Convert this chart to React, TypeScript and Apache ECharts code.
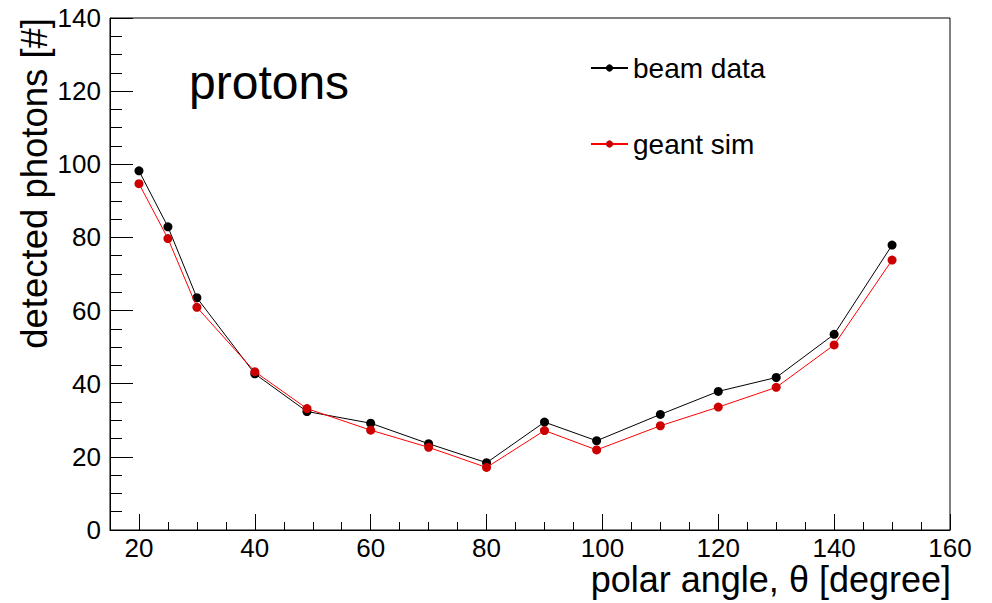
import React, { useEffect, useRef } from "react";
import * as echarts from "echarts";

// Polar angle of the incident particle [degree]
const angles = [20, 25, 30, 40, 49, 60, 70, 80, 90, 99, 110, 120, 130, 140, 150];
// Mean number of detected photons, test-beam measurement
const beamData = [98.2, 82.9, 63.5, 42.7, 32.4, 29.2, 23.6, 18.4, 29.5, 24.4, 31.6, 37.9, 41.7, 53.5, 77.9];
// Mean number of detected photons, Geant simulation
const geantSim = [94.7, 79.7, 60.9, 43.3, 33.2, 27.3, 22.6, 17.1, 27.2, 21.9, 28.5, 33.6, 39.0, 50.6, 73.8];

const xMajorTicks = [20, 40, 60, 80, 100, 120, 140, 160];
const xMinorTicks = [20, 25, 30, 35, 40, 45, 50, 55, 60, 65, 70, 75, 80, 85, 90, 95, 100, 105, 110, 115, 120, 125, 130, 135, 140, 145, 150, 155, 160];

const FONT = "'Liberation Sans', Arial, Helvetica, sans-serif";

export default function App() {
  const ref = useRef<HTMLDivElement>(null);

  useEffect(() => {
    if (!ref.current) return;
    const chart = echarts.init(ref.current, undefined, { renderer: "svg" });
    const pairs = (ys: number[]) => angles.map((a, i) => [a, ys[i]]);

    chart.setOption({
      animation: false,
      backgroundColor: "#ffffff",
      textStyle: { fontFamily: FONT },
      grid: {
        left: 110,
        top: 18,
        right: 42,
        bottom: 73,
        show: true,
        borderColor: "#000",
        borderWidth: 1,
        backgroundColor: "transparent",
      },
      legend: {
        orient: "vertical",
        left: 590,
        top: 54,
        padding: 0,
        itemGap: 48,
        itemWidth: 37,
        itemHeight: 9,
        textStyle: { fontFamily: FONT, fontSize: 28, color: "#000" },
        data: ["beam data", "geant sim"],
      },
      xAxis: [
        {
          type: "value",
          min: 15,
          max: 160,
          position: "bottom",
          axisLine: { onZero: false, lineStyle: { color: "#000", width: 1 } },
          axisTick: {
            inside: true,
            length: 16,
            customValues: xMajorTicks,
            lineStyle: { color: "#000", width: 1 },
          },
          axisLabel: {
            customValues: xMajorTicks,
            fontSize: 26,
            lineHeight: 22,
            color: "#000",
            margin: 7,
            fontFamily: FONT,
          },
          splitLine: { show: false },
        },
        {
          type: "value",
          min: 15,
          max: 160,
          position: "bottom",
          axisLine: { show: false, onZero: false },
          axisTick: {
            inside: true,
            length: 8,
            customValues: xMinorTicks,
            lineStyle: { color: "#000", width: 1 },
          },
          axisLabel: { show: false },
          splitLine: { show: false },
        },
      ],
      yAxis: {
        type: "value",
        min: 0,
        max: 140,
        interval: 20,
        axisLine: { show: true, onZero: false, lineStyle: { color: "#000", width: 1 } },
        axisTick: { inside: true, length: 23, lineStyle: { color: "#000", width: 1 } },
        minorTick: { show: true, splitNumber: 4, length: 12, lineStyle: { color: "#000", width: 1 } },
        axisLabel: { fontSize: 26, color: "#000", margin: 9, fontFamily: FONT },
        splitLine: { show: false },
        minorSplitLine: { show: false },
      },
      series: [
        {
          name: "beam data",
          type: "line",
          xAxisIndex: 0,
          data: pairs(beamData),
          symbol: "circle",
          symbolSize: 9,
          showSymbol: true,
          lineStyle: { color: "#000", width: 1 },
          itemStyle: { color: "#000" },
          z: 2,
        },
        {
          name: "geant sim",
          type: "line",
          xAxisIndex: 0,
          data: pairs(geantSim),
          symbol: "circle",
          symbolSize: 9,
          showSymbol: true,
          lineStyle: { color: "#ff0000", width: 1 },
          itemStyle: { color: "#cc0000" },
          z: 3,
        },
      ],
      graphic: [
        {
          type: "text",
          left: 189,
          top: 58,
          style: { text: "protons", fontSize: 48, fontFamily: FONT, fill: "#000" },
        },
        {
          type: "text",
          x: 34,
          y: 18,
          rotation: Math.PI / 2,
          style: {
            text: "detected photons [#]",
            fontSize: 36.5,
            fontFamily: FONT,
            fill: "#000",
            align: "right",
            verticalAlign: "middle",
          },
        },
        {
          type: "text",
          x: 951,
          y: 579,
          style: {
            text: "polar angle, θ [degree]",
            fontSize: 36,
            lineHeight: 28,
            fontFamily: FONT,
            fill: "#000",
            align: "right",
            verticalAlign: "middle",
          },
        },
      ],
    });

    return () => chart.dispose();
  }, []);

  return (
    <div
      ref={ref}
      style={{ position: "fixed", left: 0, top: 0, width: 992, height: 603, background: "#fff" }}
    />
  );
}
